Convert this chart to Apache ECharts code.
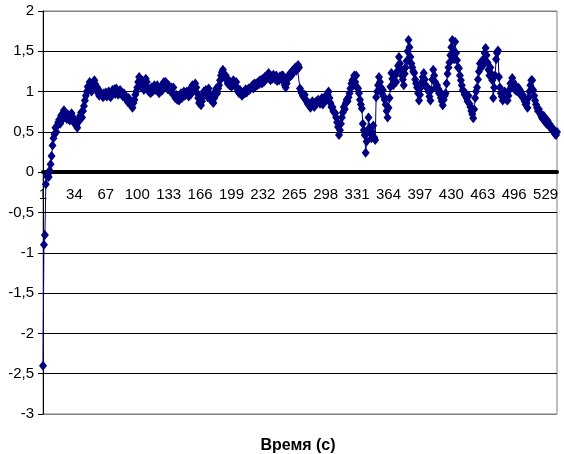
<!DOCTYPE html>
<html lang="ru">
<head>
    <meta charset="utf-8">
    <title>Время (с)</title>
    <script src="https://cdn.jsdelivr.net/npm/echarts@6/dist/echarts.min.js"></script>
</head>
<body style="margin:0;background:#fff;">
<div id="chart" style="width:564px;height:454px;"></div>
<script type="application/javascript">
    // значения по участкам (чтение с картинки)
    var rampUp = [
        -2.40, -0.90, -0.78, -0.15, -0.05, -0.03, -0.06, 0.02, 0.10, 0.20,
        0.33, 0.42, 0.47, 0.55, 0.50, 0.58, 0.62, 0.65, 0.60, 0.70,
        0.72, 0.66, 0.77, 0.74, 0.70, 0.66, 0.72, 0.68, 0.64, 0.70,
        0.73, 0.68, 0.62, 0.66, 0.60, 0.58, 0.55, 0.62, 0.66, 0.70,
        0.74, 0.68, 0.76, 0.82, 0.89, 0.95, 1.00, 1.06, 1.02, 1.12
    ];
    var plateau = [
        1.08, 1.00, 1.05, 1.10, 1.14, 1.09, 1.02, 1.05, 0.98, 0.95,
        1.00, 0.97, 0.96, 0.93, 0.98, 0.95, 0.99, 0.94, 0.97, 1.00,
        0.96, 0.93, 0.98, 1.02, 0.99, 1.03, 0.97, 1.04, 1.00, 0.96,
        0.99, 1.02, 1.00, 0.97, 0.94, 0.98, 0.95, 0.93, 0.90, 0.87,
        0.92, 0.88, 0.84, 0.82, 0.80, 0.86, 0.90, 0.96, 1.00, 1.05,
        1.12, 1.18, 1.10, 1.06, 1.14, 1.08, 1.02, 1.10, 1.16, 1.12,
        1.05, 1.00, 1.03, 0.98, 1.05, 1.00, 1.04, 1.08, 1.02, 1.05,
        1.08, 1.02, 0.98, 1.04, 1.06, 1.01, 1.09, 1.12, 1.08, 1.12,
        1.06, 1.03, 1.08, 1.04, 1.00, 1.05, 0.98, 1.05, 0.95, 0.92,
        0.96, 0.90, 0.93, 0.89, 0.94, 0.98, 0.92, 0.96, 1.00, 0.95,
        0.98, 1.00, 0.97, 0.94, 1.02, 0.96, 1.05, 1.08, 1.03, 1.06,
        1.10, 1.05, 0.98, 0.92, 0.86, 0.90, 0.83, 0.88, 0.95, 1.00,
        0.96, 1.02, 0.97, 0.93, 1.04, 0.98, 0.90, 0.94, 0.88, 0.86,
        0.92, 1.00, 1.04, 0.98, 1.04, 1.08, 1.14, 1.20, 1.24, 1.27,
        1.22, 1.18, 1.20, 1.14, 1.10, 1.14, 1.08, 1.12, 1.06, 1.10,
        1.14, 1.10, 1.06, 1.12, 1.05, 1.00, 0.98, 1.02, 0.97, 0.95,
        0.96, 1.00, 0.98, 1.03, 0.99, 1.01, 1.04, 1.02, 1.05, 1.05,
        1.08, 1.04, 1.10, 1.06, 1.10, 1.08, 1.12, 1.09, 1.14, 1.14,
        1.10, 1.16, 1.12, 1.18, 1.15, 1.20, 1.17, 1.23, 1.18, 1.14,
        1.19, 1.16, 1.21, 1.18, 1.15, 1.20, 1.13, 1.17, 1.14, 1.19,
        1.16, 1.20, 1.20, 1.12, 1.08, 1.05, 1.10, 1.16, 1.20, 1.18,
        1.23, 1.20, 1.26, 1.24, 1.28, 1.30, 1.26, 1.31, 1.33, 1.30
    ];
    var dipZone = [
        1.04, 1.00, 0.98, 0.95, 0.93, 0.96, 0.90, 0.88, 0.85, 0.86,
        0.83, 0.80, 0.84, 0.88, 0.85, 0.81, 0.84, 0.88, 0.86, 0.90,
        0.89, 0.85, 0.88, 0.92, 0.84, 0.87, 0.92, 0.95, 0.90, 0.96,
        1.00, 0.92, 0.86, 0.81, 0.81, 0.76, 0.74, 0.73, 0.68, 0.62,
        0.56, 0.46, 0.52, 0.60, 0.68, 0.74, 0.81, 0.78, 0.86, 0.90,
        0.88, 0.93, 0.98, 1.04, 1.10, 1.14, 1.08, 1.20, 1.12, 1.20,
        1.05, 1.04, 0.98, 0.90, 0.84, 0.79, 0.60, 0.52, 0.46, 0.24,
        0.38, 0.50, 0.68, 0.55, 0.48, 0.42, 0.50, 0.58, 0.43, 0.40
    ];
    var peaks = [
        0.93, 1.00, 1.08, 1.18, 1.12, 1.05, 0.98, 1.02, 0.94, 0.90,
        0.84, 0.76, 0.68, 0.80, 0.92, 1.06, 1.23, 1.16, 1.08, 1.14,
        1.20, 1.12, 1.25, 1.32, 1.43, 1.35, 1.28, 1.20, 1.15, 1.08,
        1.22, 1.30, 1.38, 1.50, 1.64, 1.55, 1.43, 1.35, 1.30, 1.25,
        1.23, 1.15, 1.10, 1.05, 0.98, 0.89, 0.96, 1.05, 1.12, 1.18,
        1.23, 1.15, 1.08, 1.05, 1.05, 1.00, 0.94, 0.89, 1.02, 1.15,
        1.27, 1.20, 1.12, 1.05, 1.08, 1.04, 0.98, 1.00, 0.92, 0.88,
        0.83, 0.90, 0.95, 0.98, 1.10, 1.22, 1.30, 1.36, 1.45, 1.55,
        1.64, 1.50, 1.40, 1.62, 1.48, 1.39, 1.30, 1.29, 1.20, 1.14,
        1.08, 1.02, 1.00, 0.96, 0.98, 0.92, 0.88, 0.95, 0.85, 0.81,
        0.76, 0.72, 0.67, 0.78, 0.92, 1.00, 1.05, 1.15, 1.25, 1.35,
        1.30, 1.38, 1.32, 1.40, 1.48, 1.54, 1.45, 1.36, 1.27, 1.20,
        1.30, 1.22, 1.14, 0.92, 1.05, 1.20, 1.40, 1.48, 1.51, 1.18
    ];
    var tail = [
        1.05, 0.98, 0.94, 0.89, 0.96, 1.00, 0.94, 0.90, 0.89, 0.95,
        1.02, 1.10, 1.06, 1.17, 1.12, 1.08, 1.02, 1.06, 1.00, 1.05,
        1.04, 0.98, 1.00, 0.94, 0.96, 0.92, 0.88, 0.84, 0.86, 0.80,
        0.92, 1.00, 1.08, 1.14, 1.14, 1.02, 0.95, 0.89, 0.84, 0.80,
        0.76, 0.78, 0.74, 0.71, 0.68, 0.66, 0.70, 0.64, 0.62, 0.60,
        0.64, 0.58, 0.60, 0.56, 0.55, 0.52, 0.54, 0.50, 0.47, 0.46, 0.50
    ];

    var values = rampUp.concat(plateau, dipZone, peaks, tail);
    // номера отсчётов 1..N
    var times = [];
    for (var i = 0; i < values.length; i++) {
        times.push(String(i + 1));
    }

    // серые верх и низ рамки, остальные линии сетки чёрные
    var gridColors = ['#808080', '#000', '#000', '#000', '#000', '#000', '#000', '#000', '#000', '#000', '#808080'];

    var myChart = echarts.init(document.getElementById('chart'));
    var option = {
        animation: false,
        backgroundColor: '#fff',
        textStyle: {fontFamily: 'Liberation Sans, Arial, sans-serif'},
        title: {
            text: 'Время (с)',
            left: 298,
            top: 438,
            padding: 0,
            textAlign: 'center',
            textStyle: {fontSize: 16, fontWeight: 'bold', color: '#000', fontFamily: 'Liberation Sans, Arial'}
        },
        grid: {
            left: 43, right: 7, top: 11, bottom: 40,
            show: true,
            borderColor: '#808080',
            borderWidth: 1
        },
        xAxis: {
            type: 'category',
            data: times,
            boundaryGap: false,
            // ось сдвинута вверх на уровень нуля (высота сетки 403 px, ноль на 2/5)
            offset: -242,
            axisLine: {onZero: false, lineStyle: {color: '#000', width: 4}},
            axisTick: {show: false},
            axisLabel: {interval: 32, color: '#000', fontSize: 15, margin: 15},
            splitLine: {show: false}
        },
        yAxis: {
            type: 'value',
            min: -3,
            max: 2,
            interval: 0.5,
            axisLine: {show: true, lineStyle: {color: '#000', width: 1}},
            axisTick: {show: true, length: 5, lineStyle: {color: '#000'}},
            axisLabel: {
                color: '#000',
                fontSize: 15,
                margin: 9,
                formatter: function (v) {
                    return String(v).replace('.', ',');
                }
            },
            splitLine: {show: true, lineStyle: {color: gridColors, width: 1}}
        },
        series: [{
            type: 'line',
            data: values,
            symbol: 'diamond',
            symbolSize: [8, 10],
            showAllSymbol: true,
            itemStyle: {color: '#000080'},
            lineStyle: {color: '#000080', width: 1}
        }]
    };
    myChart.setOption(option);
</script>
</body>
</html>
